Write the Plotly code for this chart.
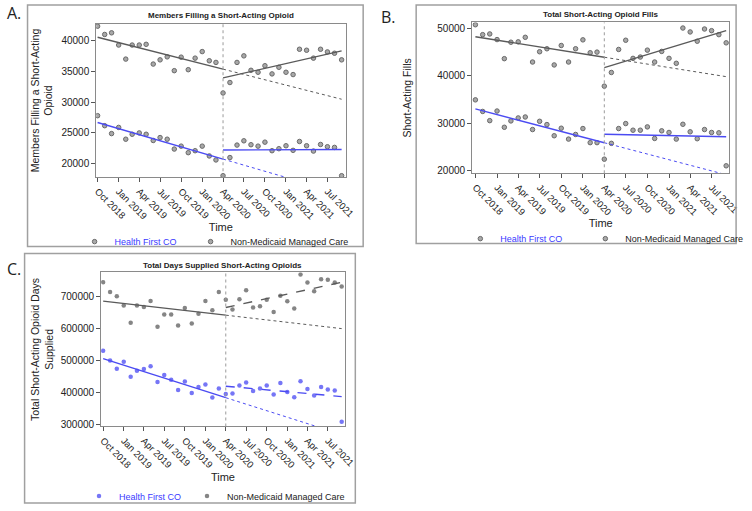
import plotly.graph_objects as go
import pandas as pd

# ---------------- data ----------------
months = pd.date_range("2018-10-01", periods=36, freq="MS")
intervention = "2020-04-01"
trend_dates = ["2018-10-01", "2020-04-01", "2021-09-01"]
tick_dates = pd.date_range("2018-10-01", "2021-07-01", freq="3MS")
tick_labels = ["Oct 2018", "Jan 2019", "Apr 2019", "Jul 2019", "Oct 2019", "Jan 2020",
               "Apr 2020", "Jul 2020", "Oct 2020", "Jan 2021", "Apr 2021", "Jul 2021"]

# Panel A: Members filling a short-acting opioid
a_hfco = [27770, 26130, 24840, 25850, 23920, 24730, 24950, 24730, 23710, 24190, 23920, 22310,
          22790, 21720, 22040, 22790, 21180, 20530, 17950, 20920, 22960, 23660, 23020, 22790,
          23440, 22040, 22370, 22850, 22100, 23550, 22850, 21980, 23060, 22690, 22580, 17950]
a_nmmc = [42400, 41050, 41320, 39320, 37020, 39320, 39320, 39440, 36210, 36900, 37390, 35130,
          37340, 35290, 37180, 38250, 36750, 36480, 31480, 33190, 36480, 37550, 35190, 34870,
          35940, 34600, 35680, 34870, 34490, 38630, 38470, 37180, 38630, 38200, 37980, 36900]
a_hfco_pre_trend = [26650, 20670, 15030]
a_hfco_post_trend = [22150, 22250]
a_nmmc_pre_trend = [40590, 35380, 30460]
a_nmmc_post_trend = [33950, 38360]

# Panel B: Total short-acting opioid fills
b_hfco = [34910, 32460, 30520, 32550, 29120, 30460, 31090, 31290, 28640, 30380, 29690, 27330,
          28920, 26620, 27600, 28850, 25870, 25870, 22380, 25720, 28850, 29900, 28500, 28500,
          29200, 26760, 28370, 28020, 26620, 29750, 28160, 26700, 28640, 28020, 27950, 20980]
b_nmmc = [50770, 48680, 48830, 47640, 43610, 47080, 47160, 48120, 42900, 45070, 45700, 42280,
          46390, 42900, 45700, 47580, 44860, 44990, 37800, 40690, 45550, 47500, 43670, 43950,
          45410, 42900, 45140, 43670, 42630, 50080, 49250, 47290, 49870, 49520, 48680, 46950]
b_hfco_pre_trend = [33000, 25850, 19100]
b_hfco_post_trend = [27650, 27120]
b_nmmc_pre_trend = [48250, 43910, 39810]
b_nmmc_post_trend = [41730, 49520]

# Panel C: Total days supplied short-acting opioids
c_hfco = [529500, 499400, 473600, 495300, 448800, 467400, 472400, 481700, 432100, 453800, 439500, 407300,
          433300, 398000, 416600, 424000, 383700, 411600, 394900, 396100, 420900, 430200, 404200, 411600,
          420900, 393000, 429000, 401100, 384700, 434300, 410400, 390000, 416600, 408500, 405400, 308100]
c_nmmc = [744300, 713300, 700000, 670900, 617200, 670900, 666800, 685400, 604800, 643000, 643000, 608800,
          663700, 615000, 645100, 685400, 656600, 713300, 689500, 658500, 690600, 718600, 664700, 669000,
          689500, 651300, 701900, 684500, 661600, 768200, 743400, 715500, 753600, 751500, 743400, 731000]
c_hfco_pre_trend = [505000, 383000, 268000]
c_hfco_post_trend = [419000, 386500]
c_nmmc_pre_trend = [685000, 641000, 599000]
c_nmmc_post_trend = [665000, 744000]

series_names = ["Health First CO", "Non-Medicaid Managed Care"]
panel_titles = ["Members Filling a Short-Acting Opioid", "Total Short-Acting Opioid Fills",
                "Total Days Supplied Short-Acting Opioids"]
y_titles = ["Members Filling a Short-Acting<br>Opioid", "Short-Acting Fills",
            "Total Short-Acting Opioid Days<br>Supplied"]
panel_letters = ["A.", "B.", "C."]

# ---------------- styling ----------------
W, H = 752, 511
FONT = "Liberation Sans, Arial, sans-serif"
BLUE_TXT = "#3a3aff"
BLUE_LINE = "#4b4bf2"
GREY_LINE = "#5a5a5a"

def px(x):
    return x / W

def py(y):
    return 1 - y / H

grey_mk = dict(color="#a8a8a8", line=dict(color="#6a6a6a", width=1))
panels = [
    dict(hf=a_hfco, nm=a_nmmc, hf_pre=a_hfco_pre_trend, hf_post=a_hfco_post_trend,
         nm_pre=a_nmmc_pre_trend, nm_post=a_nmmc_post_trend, post_dash="solid",
         hf_marker=grey_mk, nm_marker=grey_mk, msize=4.5,
         frame=(95, 24, 349, 179), xr=["2018-09-25", "2021-09-18"], yr=[17700, 42800], dtick=5000,
         box=(25, 5, 367, 249), letter=(2, 13), title_y=16, leg=(0.097, 244, 71), ystand=6),
    dict(hf=b_hfco, nm=b_nmmc, hf_pre=b_hfco_pre_trend, hf_post=b_hfco_post_trend,
         nm_pre=b_nmmc_pre_trend, nm_post=b_nmmc_post_trend, post_dash="solid",
         hf_marker=grey_mk, nm_marker=grey_mk, msize=4.5,
         frame=(478, 22.7, 740, 175), xr=["2018-09-17", "2021-09-14"], yr=[19400, 51250], dtick=10000,
         box=(421, 5, 747, 246), letter=(383, 17), title_y=15, leg=(0.6197, 241, 80), ystand=23),
    dict(hf=c_hfco, nm=c_nmmc, hf_pre=c_hfco_pre_trend, hf_post=c_hfco_post_trend,
         nm_pre=c_nmmc_pre_trend, nm_post=c_nmmc_post_trend, post_dash="dash",
         hf_marker=dict(color="#7676f6", line=dict(width=0)),
         nm_marker=dict(color="#858585", line=dict(width=0)), msize=4.5,
         frame=(100, 275, 348.3, 430.7), xr=["2018-09-22", "2021-09-15"], yr=[293000, 775000], dtick=100000,
         box=(22, 256, 359, 508), letter=(2, 272), title_y=268, leg=(0.103, 501, 63), ystand=5),
]

fig = go.Figure()
layout_axes = {}
shapes = []
annotations = []

for i, p in enumerate(panels):
    sfx = "" if i == 0 else str(i + 1)
    xa, ya = "x" + sfx, "y" + sfx
    leg = "legend" + sfx
    lgx, lgy, ew = p["leg"]
    # markers
    fig.add_trace(go.Scatter(x=months, y=p["hf"], mode="markers", xaxis=xa, yaxis=ya,
                             name="<span style='color:%s'>%s</span>" % (BLUE_TXT, series_names[0]),
                             marker=dict(size=p["msize"], **p["hf_marker"]), legend=leg, legendwidth=ew))
    fig.add_trace(go.Scatter(x=months, y=p["nm"], mode="markers", xaxis=xa, yaxis=ya,
                             name=series_names[1],
                             marker=dict(size=p["msize"], **p["nm_marker"]), legend=leg, legendwidth=117))
    # trend lines
    for pre, post, col in [(p["hf_pre"], p["hf_post"], BLUE_LINE), (p["nm_pre"], p["nm_post"], GREY_LINE)]:
        fig.add_trace(go.Scatter(x=trend_dates[:2], y=pre[:2], mode="lines", xaxis=xa, yaxis=ya,
                                 line=dict(color=col, width=1.4), showlegend=False, hoverinfo="skip"))
        fig.add_trace(go.Scatter(x=trend_dates[1:], y=pre[1:], mode="lines", xaxis=xa, yaxis=ya,
                                 line=dict(color=col, width=1, dash="dot"), showlegend=False, hoverinfo="skip"))
        fig.add_trace(go.Scatter(x=trend_dates[1:], y=post, mode="lines", xaxis=xa, yaxis=ya,
                                 line=dict(color=col, width=1.4, dash=p["post_dash"]),
                                 showlegend=False, hoverinfo="skip"))

    x0, y0, x1, y1 = p["frame"]
    layout_axes["xaxis" + sfx] = dict(
        domain=[px(x0), px(x1)], anchor=ya, type="date", range=p["xr"],
        tickvals=list(tick_dates), ticktext=tick_labels, tickangle=45,
        ticks="outside", ticklen=4, tickcolor="#555", showline=True, mirror=True,
        linecolor="#8a8a8a", linewidth=1, showgrid=False, zeroline=False,
        tickfont=dict(size=9.5, color="#222", family=FONT),
        title=dict(text="Time", font=dict(size=11, color="#222", family=FONT), standoff=1),
    )
    layout_axes["yaxis" + sfx] = dict(
        domain=[py(y1), py(y0)], anchor=xa, range=p["yr"], dtick=p["dtick"], tickformat="d",
        ticks="outside", ticklen=4, tickcolor="#555", showline=True, mirror=True,
        linecolor="#8a8a8a", linewidth=1, showgrid=False, zeroline=False,
        tickfont=dict(size=10, color="#222", family=FONT),
        title=dict(text=y_titles[i], font=dict(size=10.5, color="#222", family=FONT), standoff=p["ystand"]),
    )
    # intervention line
    shapes.append(dict(type="line", xref=xa, yref=ya + " domain", x0=intervention, x1=intervention,
                       y0=0, y1=1, line=dict(color="#9a9a9a", width=1, dash="dot")))
    # outer panel box
    bx0, by0, bx1, by1 = p["box"]
    shapes.append(dict(type="rect", xref="paper", yref="paper", x0=px(bx0), x1=px(bx1),
                       y0=py(by1), y1=py(by0), line=dict(color="#a0a0a0", width=1.5)))
    # panel title
    annotations.append(dict(text="<b>%s</b>" % panel_titles[i], xref="paper", yref="paper",
                            x=px((x0 + x1) / 2), y=py(p["title_y"]), showarrow=False,
                            xanchor="center", yanchor="middle",
                            font=dict(size=8, color="#222", family=FONT)))
    # panel letter
    lx, ly = p["letter"]
    annotations.append(dict(text=panel_letters[i], xref="paper", yref="paper", x=px(lx), y=py(ly),
                            showarrow=False, xanchor="left", yanchor="middle",
                            font=dict(size=16, color="#222", family="Open Sans, sans-serif")))
    layout_axes[leg] = dict(orientation="h", x=lgx, y=py(lgy), xanchor="left", yanchor="middle",
                            itemwidth=30, bgcolor="rgba(0,0,0,0)",
                            font=dict(size=9, color="#222", family=FONT), tracegroupgap=0)

fig.update_layout(
    width=W, height=H, margin=dict(l=0, r=0, t=0, b=0),
    paper_bgcolor="white", plot_bgcolor="white",
    font=dict(family=FONT, color="#222"),
    shapes=shapes, annotations=annotations, **layout_axes,
)

fig.write_html("out.html", config={"displayModeBar": False},
               post_script="document.body.style.margin='0px';")
